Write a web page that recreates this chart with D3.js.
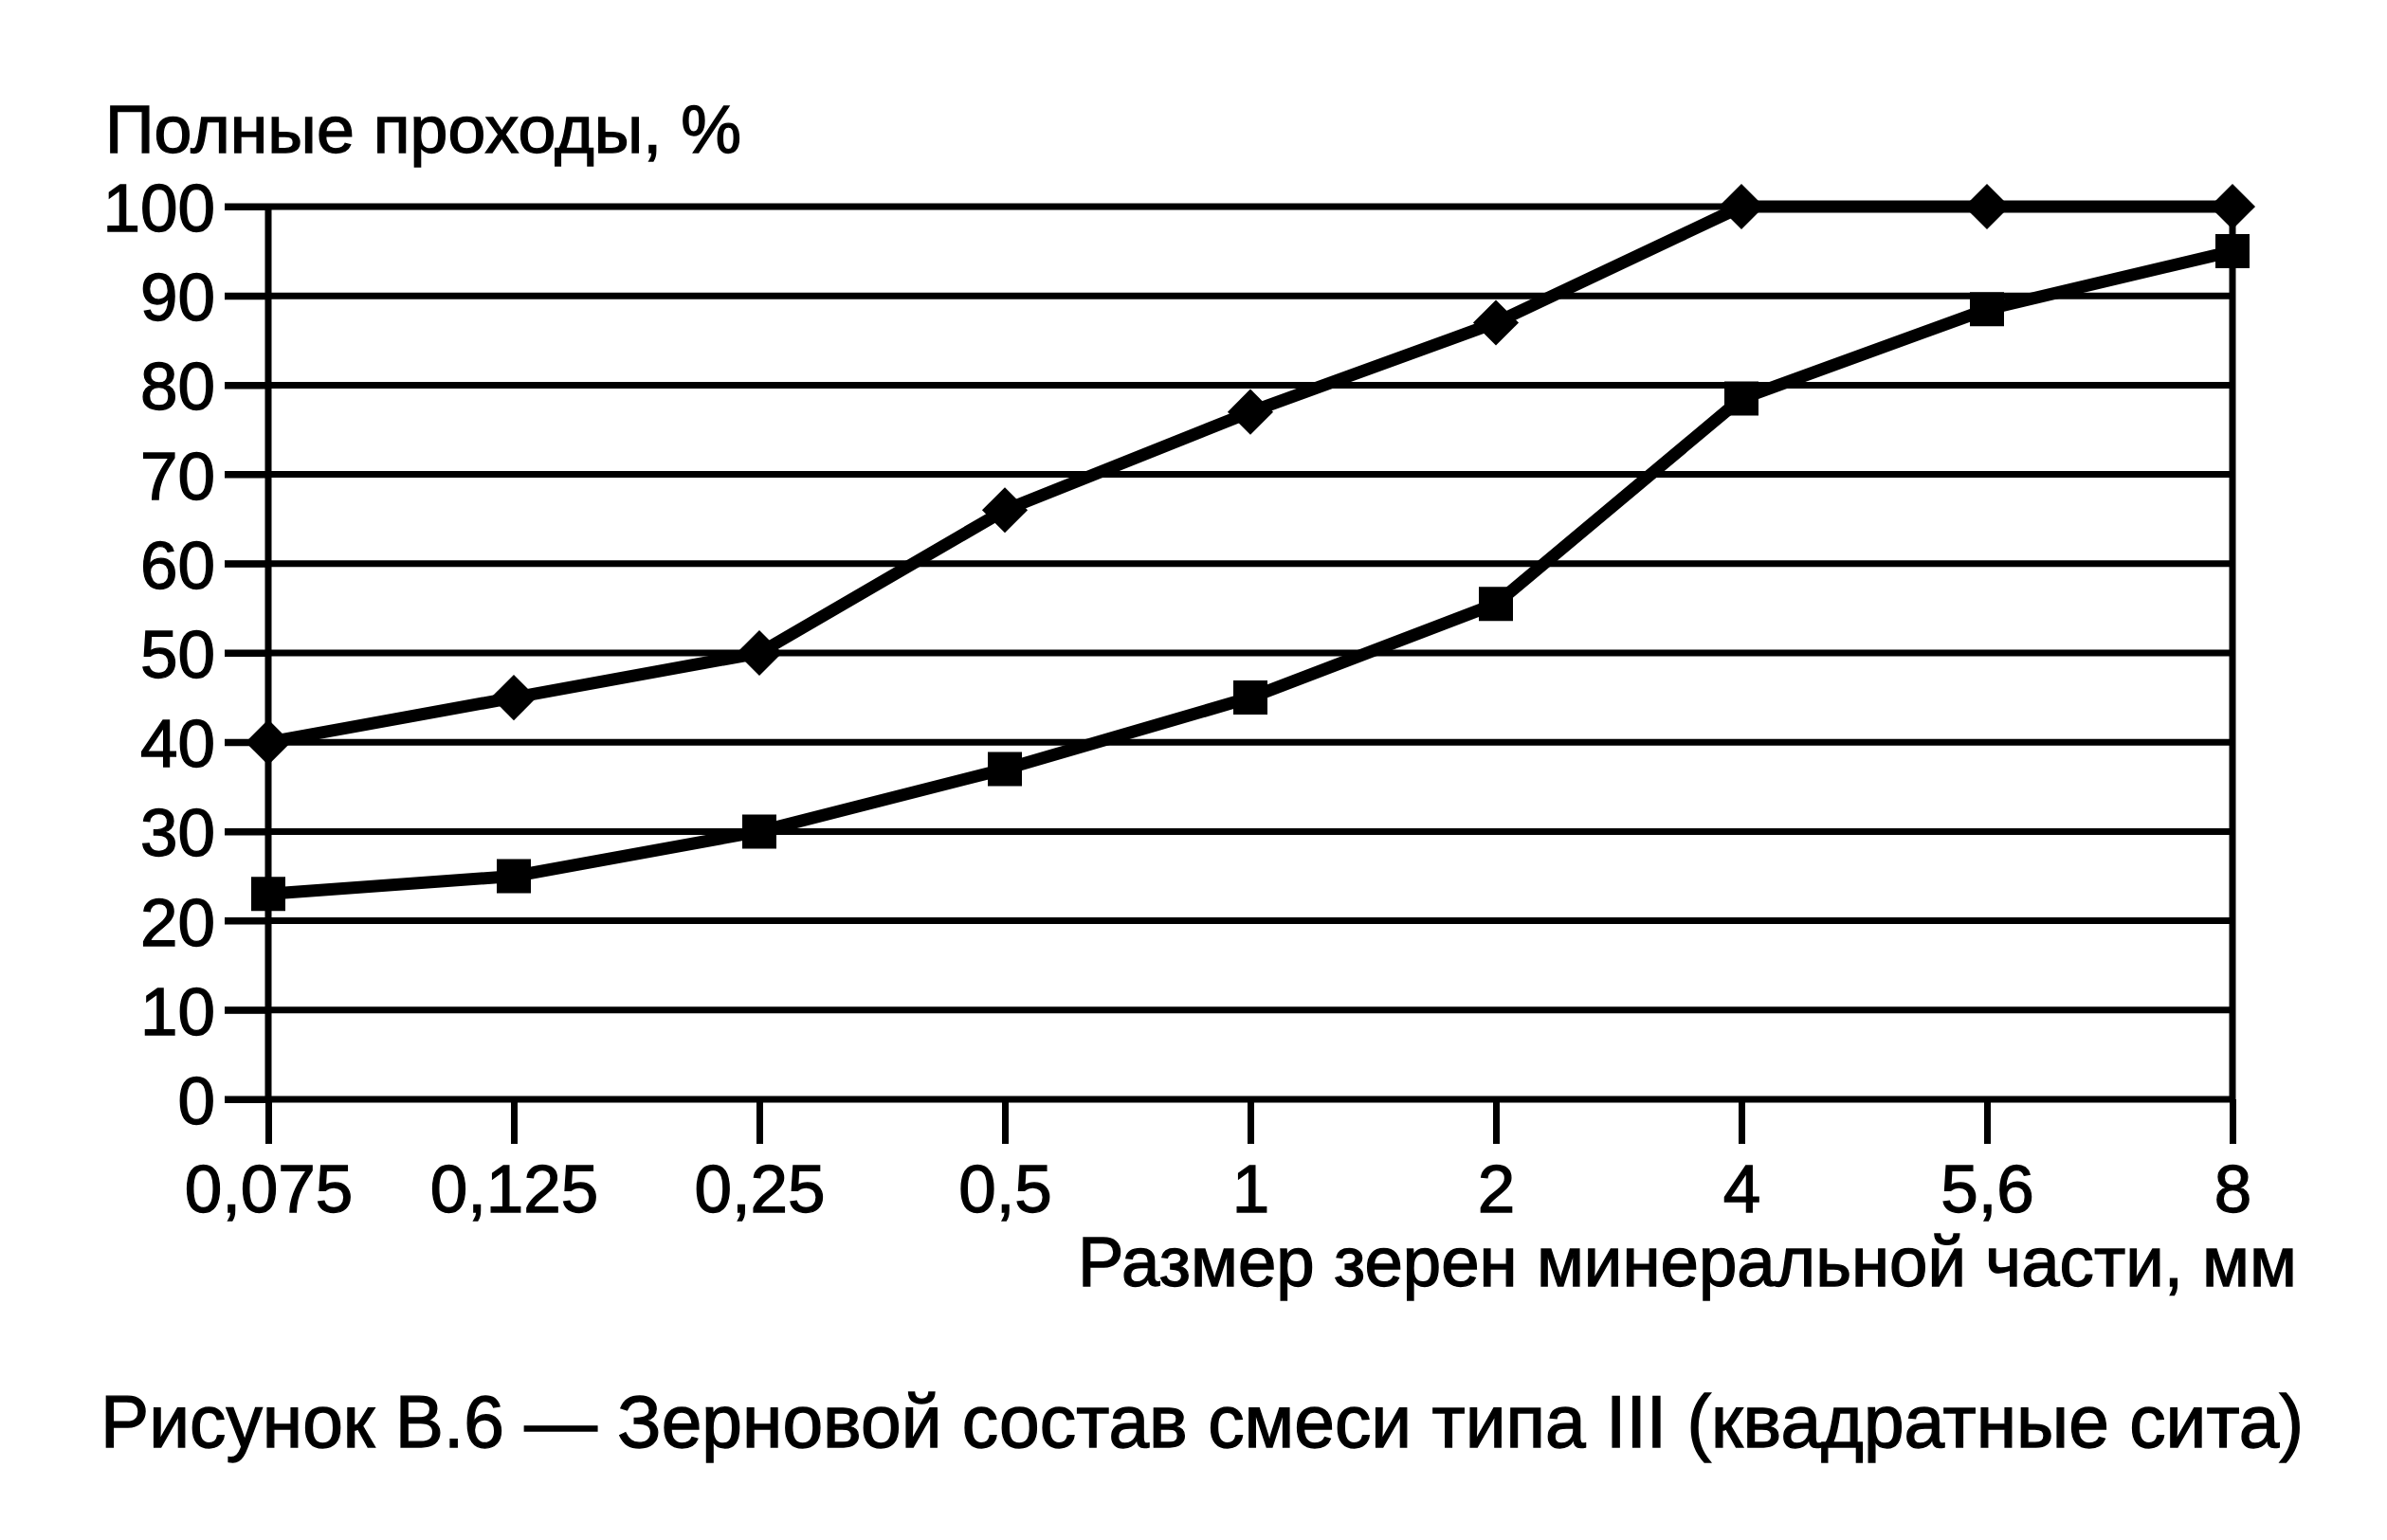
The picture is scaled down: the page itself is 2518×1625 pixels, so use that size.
<!DOCTYPE html>
<meta charset="UTF-8">
<script src="https://cdnjs.cloudflare.com/ajax/libs/d3/7.4.4/d3.min.js"></script>
<style>
    body { margin: 0; background: #fff; }
    text { font-family: "Liberation Sans", Arial, sans-serif; fill: #000; stroke: #000; stroke-width: 1.3px; }
</style>
<svg id="chart" width="2518" height="1625"></svg>
<script>
    // sieve sizes, mm (category axis)
    let sizes = ["0,075", "0,125", "0,25", "0,5", "1", "2", "4", "5,6", "8"];
    // upper curve (diamonds) and lower curve (squares), % passing
    let upper = [40, 45, 50, 66, 77, 87, 100, 100, 100];
    let lower = [23, 25, 30, 37, 45, 55.5, 78.5, 88.5, 95];
    let yTicks = [0, 10, 20, 30, 40, 50, 60, 70, 80, 90, 100];

    let yTitle = "Полные проходы, %";
    let xTitle = "Размер зерен минеральной части, мм";
    let caption = "Рисунок В.6 — Зерновой состав смеси типа III (квадратные сита)";

    let svg = d3.select("svg");
    svg.append("rect").attr("width", 2518).attr("height", 1625).style("fill", "#fff");

    let plotLeft = 283, plotRight = 2355, plotTop = 218, plotBottom = 1160;

    let x = d3.scalePoint().domain(sizes).range([plotLeft, plotRight]);
    let y = d3.scaleLinear().domain([0, 100]).range([plotBottom, plotTop]);

    // horizontal grid, starting a bit left of the axis
    svg.append("g")
        .selectAll("line")
        .data(yTicks)
        .enter().append("line")
        .attr("x1", plotLeft - 46)
        .attr("x2", plotRight)
        .attr("y1", d => y(d))
        .attr("y2", d => y(d))
        .style("stroke", "#000")
        .style("stroke-width", 7);

    // vertical borders
    svg.append("g")
        .selectAll("line")
        .data([sizes[0], sizes[sizes.length - 1]])
        .enter().append("line")
        .attr("x1", d => x(d))
        .attr("x2", d => x(d))
        .attr("y1", y(100))
        .attr("y2", y(0))
        .style("stroke", "#000")
        .style("stroke-width", 7);

    let yAxis = svg.append("g")
        .attr("transform", "translate(" + plotLeft + ",0)")
        .call(d3.axisLeft(y).tickValues(yTicks).tickSize(46).tickPadding(10));
    yAxis.select(".domain").remove();
    yAxis.selectAll("line").style("stroke-width", 7);
    yAxis.selectAll("text")
        .attr("dy", "0.36em")
        .style("font-family", "Liberation Sans")
        .style("font-size", "71px");

    let xAxis = svg.append("g")
        .attr("transform", "translate(0," + plotBottom + ")")
        .call(d3.axisBottom(x).tickSize(47).tickPadding(22));
    xAxis.select(".domain").remove();
    xAxis.selectAll("line").style("stroke-width", 7);
    xAxis.selectAll("text")
        .style("font-family", "Liberation Sans")
        .style("font-size", "71px");

    // curves
    let line = d3.line()
        .x((d, i) => x(sizes[i]))
        .y(d => y(d));

    [upper, lower].forEach(function (s) {
        svg.append("path")
            .datum(s)
            .attr("d", line)
            .style("fill", "none")
            .style("stroke", "#000")
            .style("stroke-width", 13)
            .style("stroke-linejoin", "round");
    });

    // diamonds = squares turned 45deg
    svg.append("g")
        .selectAll("path")
        .data(upper)
        .enter().append("path")
        .attr("d", d3.symbol().type(d3.symbolSquare).size(1156))
        .attr("transform", (d, i) => "translate(" + x(sizes[i]) + "," + y(d) + ") rotate(45)")
        .style("fill", "#000");

    svg.append("g")
        .selectAll("path")
        .data(lower)
        .enter().append("path")
        .attr("d", d3.symbol().type(d3.symbolSquare).size(1296))
        .attr("transform", (d, i) => "translate(" + x(sizes[i]) + "," + y(d) + ")")
        .style("fill", "#000");

    // titles
    svg.append("text")
        .attr("x", 111)
        .attr("y", 161)
        .attr("textLength", 671)
        .attr("lengthAdjust", "spacingAndGlyphs")
        .style("font-size", "70px")
        .text(yTitle);

    svg.append("text")
        .attr("x", 1137)
        .attr("y", 1357)
        .attr("textLength", 1286)
        .attr("lengthAdjust", "spacingAndGlyphs")
        .style("font-size", "74px")
        .text(xTitle);

    svg.append("text")
        .attr("x", 106)
        .attr("y", 1527)
        .attr("textLength", 2324)
        .attr("lengthAdjust", "spacingAndGlyphs")
        .style("font-size", "78px")
        .text(caption);
</script>
